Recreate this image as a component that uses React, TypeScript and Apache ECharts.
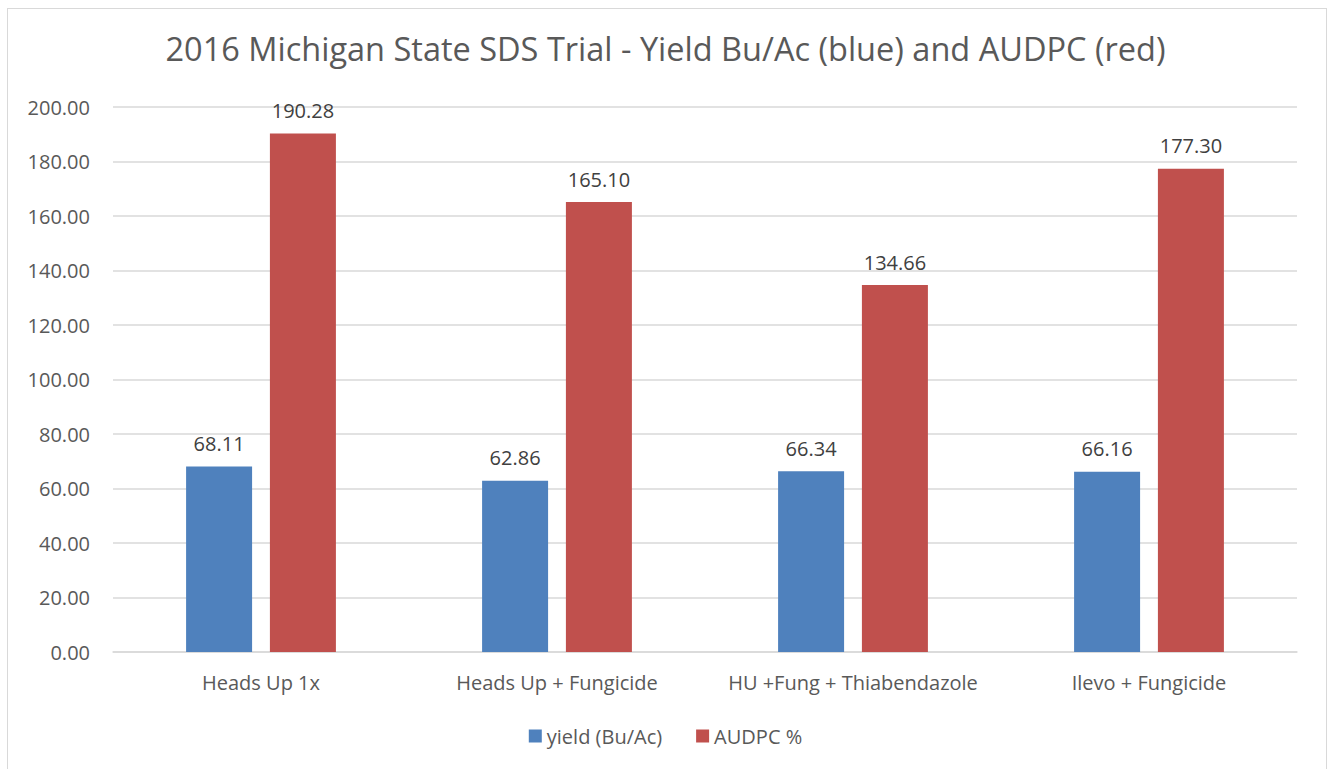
import React, { useEffect, useRef } from "react";
import * as echarts from "echarts";

const categories = ["Heads Up 1x", "Heads Up + Fungicide", "HU +Fung + Thiabendazole", "Ilevo + Fungicide"];
const yieldValues = [68.11, 62.86, 66.34, 66.16];
const audpcValues = [190.28, 165.1, 134.66, 177.3];
const seriesNames = ["yield (Bu/Ac)", "AUDPC %"];
const titleText = "2016 Michigan State SDS Trial - Yield Bu/Ac (blue) and AUDPC (red)";

const FONT = "'Open Sans', sans-serif";

export default function App() {
  const ref = useRef<HTMLDivElement>(null);
  useEffect(() => {
    if (!ref.current) return;
    const chart = echarts.init(ref.current, undefined, { renderer: "svg" });
    const labelStyle = {
      show: true,
      position: "top" as const,
      distance: 13,
      color: "#404040",
      fontFamily: FONT,
      fontSize: 20,
      formatter: (p: any) => Number(p.value).toFixed(2),
    };
    chart.setOption({
      animation: false,
      backgroundColor: "transparent",
      title: {
        text: titleText,
        left: "center",
        top: 27,
        textStyle: { fontFamily: FONT, fontSize: 32.5, fontWeight: "normal", color: "#595959" },
      },
      legend: {
        data: seriesNames,
        bottom: 18,
        left: "center",
        itemWidth: 13,
        itemHeight: 13,
        itemGap: 34,
        icon: "rect",
        textStyle: { fontFamily: FONT, fontSize: 20, color: "#595959" },
      },
      grid: { left: 113, right: 34, top: 107, bottom: 117, containLabel: false },
      xAxis: {
        type: "category",
        data: categories,
        axisLine: { lineStyle: { color: "#d9d9d9", width: 1.5 } },
        axisTick: { show: false },
        axisLabel: { fontFamily: FONT, fontSize: 20, color: "#595959", margin: 20, interval: 0 },
      },
      yAxis: {
        type: "value",
        min: 0,
        max: 200,
        interval: 20,
        axisLine: { show: false },
        axisTick: { show: false },
        splitLine: { lineStyle: { color: "#d9d9d9", width: 1.5 } },
        axisLabel: {
          fontFamily: FONT,
          fontSize: 20,
          color: "#595959",
          margin: 23,
          formatter: (v: number) => v.toFixed(2),
        },
      },
      series: [
        {
          name: seriesNames[0],
          type: "bar",
          data: yieldValues,
          barWidth: 66,
          barGap: "27%",
          itemStyle: { color: "#4F81BD" },
          label: labelStyle,
        },
        {
          name: seriesNames[1],
          type: "bar",
          data: audpcValues,
          barWidth: 66,
          barGap: "27%",
          itemStyle: { color: "#C0504D" },
          label: labelStyle,
        },
      ],
    });
    return () => chart.dispose();
  }, []);
  return (
    <div
      style={{
        position: "fixed",
        left: 0,
        top: 0,
        width: 1331,
        height: 769,
        background: "#ffffff",
        overflow: "hidden",
      }}
    >
      <div
        style={{
          position: "absolute",
          left: 7,
          top: 8,
          width: 1320,
          height: 775,
          border: "1.5px solid #d9d9d9",
          boxSizing: "border-box",
        }}
      />
      <div ref={ref} style={{ position: "absolute", left: 0, top: 0, width: 1331, height: 769 }} />
    </div>
  );
}
